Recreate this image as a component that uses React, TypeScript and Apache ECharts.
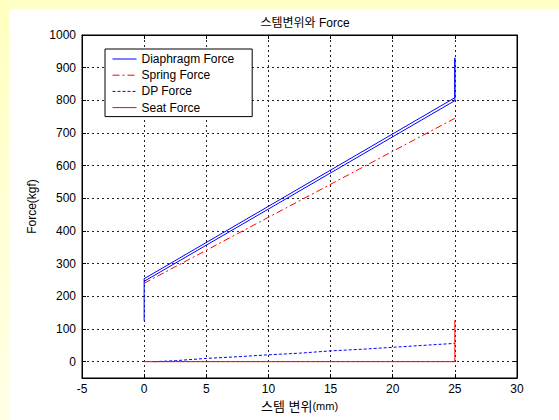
import React, { useEffect, useRef } from 'react';
import * as echarts from 'echarts';

const titleText = '스템변위와 Force';
const xAxisName = '스템 변위';
const xAxisUnit = '(mm)';
const yAxisName = 'Force(kgf)';
const yTickValues = [0, 100, 200, 300, 400, 500, 600, 700, 800, 900, 1000];

const seriesNames = ['Diaphragm Force', 'Spring Force', 'DP Force', 'Seat Force'];
const diaphragmForce: [number, number][] = [
  [0, 125], [0, 254], [25, 808], [25, 930], [25, 799], [0, 246],
];
const springForce: [number, number][] = [[0, 240], [25, 745]];
const dpForce: [number, number][] = [
  [0.8, 0], [2.5, 3], [5, 10], [7.5, 15], [10, 21], [12.5, 26],
  [15, 33], [17.5, 38], [20, 44], [22.5, 50], [25, 56],
];
const seatForce: [number, number][] = [[0, 0], [25, 0], [25, 127]];

const FONT = '"Liberation Sans", Arial, "Noto Sans CJK KR", sans-serif';

export default function App() {
  const ref = useRef<HTMLDivElement>(null);
  useEffect(() => {
    if (!ref.current) return;
    const chart = echarts.init(ref.current, null, { renderer: 'svg' });
    const gridLine = { show: true, lineStyle: { color: '#222', type: [2, 3] as any, width: 1 } };
    const plain = (v: number) => String(v);
    chart.setOption({
      animation: false,
      backgroundColor: '#ffffff',
      textStyle: { fontFamily: FONT },
      graphic: [
        { type: 'rect', left: 0, top: 0, shape: { width: 559, height: 9 }, style: { fill: '#FFFFC8' }, silent: true },
        {
          type: 'rect', left: 0, top: 0, shape: { width: 9, height: 420 },
          style: {
            fill: new echarts.graphic.LinearGradient(0, 0, 0, 1, [
              { offset: 0, color: '#FFFFC0' },
              { offset: 1, color: '#FFFFE6' },
            ]),
          },
          silent: true,
        },
      ],
      title: {
        text: titleText,
        left: 300,
        top: 12,
        textAlign: 'center',
        textStyle: { fontSize: 12, fontWeight: 'normal', color: '#000', fontFamily: FONT },
      },
      legend: {
        orient: 'vertical',
        left: 105,
        top: 49,
        data: seriesNames,
        backgroundColor: '#fff',
        borderColor: '#000',
        borderWidth: 1,
        borderRadius: 0,
        padding: [4, 18, 3, 7],
        itemGap: 4.2,
        itemWidth: 24,
        itemHeight: 12,
        itemStyle: { opacity: 0 },
        lineStyle: { width: 1 },
        textStyle: { fontSize: 12, color: '#000', fontFamily: FONT },
      },
      grid: { left: 82, right: 42, top: 35, bottom: 42, show: true, borderColor: '#000', borderWidth: 1, backgroundColor: '#fff' },
      xAxis: [
        {
          type: 'value', min: -5, max: 30, interval: 5,
          name: `{a|${xAxisName}}{b|${xAxisUnit}}`,
          nameLocation: 'middle', nameGap: 19,
          nameTextStyle: {
            rich: {
              a: { fontSize: 13, color: '#000', fontFamily: FONT },
              b: { fontSize: 11, color: '#000', fontFamily: FONT },
            },
          },
          axisLine: { show: true, onZero: false, lineStyle: { color: '#000' } },
          axisTick: { show: true, inside: true, length: 4, lineStyle: { color: '#000' } },
          axisLabel: { fontSize: 12, color: '#000', margin: 5, fontFamily: FONT, formatter: plain },
          splitLine: gridLine,
        },
        {
          type: 'value', min: -5, max: 30, interval: 5, position: 'top',
          axisLine: { show: true, onZero: false, lineStyle: { color: '#000' } },
          axisTick: { show: true, inside: true, length: 4, lineStyle: { color: '#000' } },
          axisLabel: { show: false },
          splitLine: { show: false },
        },
      ],
      yAxis: [
        {
          type: 'value', min: -50, max: 1000,
          name: yAxisName, nameLocation: 'middle', nameGap: 37, nameRotate: 90,
          nameTextStyle: { fontSize: 12, color: '#000', fontFamily: FONT },
          axisLine: { show: true, onZero: false, lineStyle: { color: '#000' } },
          axisTick: { show: true, inside: true, length: 4, customValues: yTickValues, lineStyle: { color: '#000' } },
          axisLabel: { fontSize: 12, color: '#000', margin: 6, customValues: yTickValues, fontFamily: FONT, formatter: plain },
          splitLine: { ...gridLine, customValues: yTickValues },
        },
        {
          type: 'value', min: -50, max: 1000, position: 'right',
          axisLine: { show: true, onZero: false, lineStyle: { color: '#000' } },
          axisTick: { show: true, inside: true, length: 4, customValues: yTickValues, lineStyle: { color: '#000' } },
          axisLabel: { show: false, customValues: yTickValues },
          splitLine: { show: false },
        },
      ],
      series: [
        {
          name: seriesNames[0], type: 'line', data: diaphragmForce, showSymbol: false, symbol: 'none',
          lineStyle: { color: '#0000FF', width: 1, type: 'solid' }, itemStyle: { color: '#0000FF' }, z: 4,
        },
        {
          name: seriesNames[1], type: 'line', data: springForce, showSymbol: false, symbol: 'none',
          lineStyle: { color: '#FF0000', width: 1, type: [7, 3, 2, 3] }, itemStyle: { color: '#FF0000' }, z: 3,
        },
        {
          name: seriesNames[2], type: 'line', data: dpForce, showSymbol: false, symbol: 'none',
          lineStyle: { color: '#0000FF', width: 1, type: [3, 2] }, itemStyle: { color: '#0000FF' }, z: 3,
        },
        {
          name: seriesNames[3], type: 'line', data: seatForce, showSymbol: false, symbol: 'none',
          lineStyle: { color: '#FF0000', width: 1, type: 'solid' }, itemStyle: { color: '#FF0000' }, z: 3,
        },
      ],
    });
    return () => chart.dispose();
  }, []);
  return <div ref={ref} style={{ position: 'fixed', left: 0, top: 0, width: 559, height: 420 }} />;
}
